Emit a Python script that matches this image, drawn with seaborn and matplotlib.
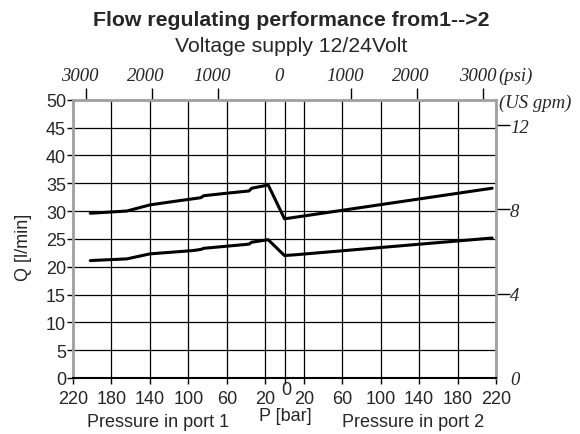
import pandas as pd
import matplotlib.pyplot as plt
import matplotlib.ticker as mticker
import matplotlib.transforms as mtransforms
import seaborn as sns

# pressure in bar: negative = port 1 side (left), positive = port 2 side (right)
p_upper = [-202, -164, -140, -116, -95, -87, -84, -60, -40, -37, -34, -22, -17, 0, 216]
q_upper = [29.6, 30.0, 31.1, 31.7, 32.2, 32.4, 32.75, 33.2, 33.55, 33.6, 34.1, 34.5, 34.7, 28.6, 34.1]
p_lower = [-202, -164, -140, -95, -87, -84, -40, -37, -34, -17, 0, 12, 216]
q_lower = [21.1, 21.4, 22.3, 22.9, 23.1, 23.3, 24.0, 24.05, 24.4, 24.85, 22.0, 22.15, 25.15]

bar_ticks = [-220, -180, -140, -100, -60, -20, 0, 20, 60, 100, 140, 180, 220]
psi_ticks = [-3000, -2000, -1000, 0, 1000, 2000, 3000]
gpm_ticks = [0, 4, 8, 12]
q_ticks = list(range(0, 55, 5))

df = pd.concat([
    pd.DataFrame({'P': p_upper, 'Q': q_upper, 'curve': 'upper'}),
    pd.DataFrame({'P': p_lower, 'Q': q_lower, 'curve': 'lower'}),
])

sns.set_style('white')
plt.rcParams['font.family'] = ['Liberation Sans', 'DejaVu Sans']
fs = 13

fig = plt.figure(figsize=(5.8, 4.35), dpi=100)
ax = fig.add_axes([73 / 580, 1 - 379 / 435, 423 / 580, 278.3 / 435])

sns.lineplot(data=df, x='P', y='Q', hue='curve', palette=['black', 'black'],
             estimator=None, sort=False, legend=False, linewidth=2.2, ax=ax)

ax.set_xlim(-220, 220)
ax.set_ylim(0, 50)
ax.set_xticks(bar_ticks)
ax.set_xticklabels(['' if t == 0 else str(abs(t)) for t in bar_ticks])
ax.set_yticks(q_ticks)
ax.grid(True, color='black', linewidth=0.9)
ax.set_xlabel('')
ax.set_ylabel('')
ax.tick_params(axis='both', direction='out', length=4, width=1, color='black',
               labelsize=fs, bottom=True, left=True)
ax.tick_params(axis='x', pad=5)
ax.tick_params(axis='y', pad=1)

for side in ['top', 'left', 'right']:
    ax.spines[side].set_color('#a0a0a0')
    ax.spines[side].set_linewidth(2)
ax.spines['bottom'].set_color('black')
ax.spines['bottom'].set_linewidth(1.5)

serif_it = {'family': 'Liberation Serif', 'style': 'italic', 'size': 13.5}

# top axis in psi
top = ax.secondary_xaxis('top', functions=(lambda b: b * 14.5038, lambda p: p / 14.5038))
top.set_xticks(psi_ticks)
top.xaxis.set_major_formatter(mticker.FuncFormatter(lambda v, pos: str(int(abs(round(v))))))
top.tick_params(direction='out', length=9, width=1, color='black', pad=2)
shift = mtransforms.ScaledTranslation(-6 / 100, 0, fig.dpi_scale_trans)
for lab in top.get_xticklabels():
    lab.set_fontfamily('Liberation Serif')
    lab.set_fontstyle('italic')
    lab.set_fontsize(13.5)
    lab.set_transform(lab.get_transform() + shift)
top.spines['top'].set_visible(False)
for t in top.xaxis.get_major_ticks():
    if abs(t.get_loc()) < 1:
        t.tick1line.set_visible(False)
        t.tick2line.set_visible(False)

# right axis in US gpm
right = ax.secondary_yaxis('right', functions=(lambda q: q / 3.785, lambda g: g * 3.785))
right.set_yticks(gpm_ticks)
right.tick_params(direction='out', length=10, width=1, color='black', pad=0)
for lab in right.get_yticklabels():
    lab.set_fontfamily('Liberation Serif')
    lab.set_fontstyle('italic')
    lab.set_fontsize(13.5)
right.spines['right'].set_visible(False)
for t in right.yaxis.get_major_ticks():
    if abs(t.get_loc()) < 0.01:
        t.tick1line.set_visible(False)
        t.tick2line.set_visible(False)

fig.text(498 / 580, 1 - 76 / 435, '(psi)', ha='left', va='center', fontdict=serif_it)
fig.text(499 / 580, 1 - 103 / 435, '(US gpm)', ha='left', va='center', fontdict=serif_it)

fig.text(291 / 580, 1 - 20 / 435, 'Flow regulating performance from1-->2',
         ha='center', va='center', fontsize=15.3, fontweight='bold')
fig.text(291 / 580, 1 - 46 / 435, 'Voltage supply 12/24Volt',
         ha='center', va='center', fontsize=15.3)

fig.text(24 / 580, 1 - 247 / 435, 'Q [l/min]', rotation=90, ha='center', va='center', fontsize=fs)
fig.text(286 / 580, 1 - 391 / 435, '0', ha='center', va='center', fontsize=fs)
fig.text(285 / 580, 1 - 417 / 435, 'P [bar]', ha='center', va='center', fontsize=fs)
fig.text(158.5 / 580, 1 - 423 / 435, 'Pressure in port 1', ha='center', va='center', fontsize=fs)
fig.text(413.5 / 580, 1 - 423 / 435, 'Pressure in port 2', ha='center', va='center', fontsize=fs)

fig.savefig('out.png', dpi=100, facecolor='white')
